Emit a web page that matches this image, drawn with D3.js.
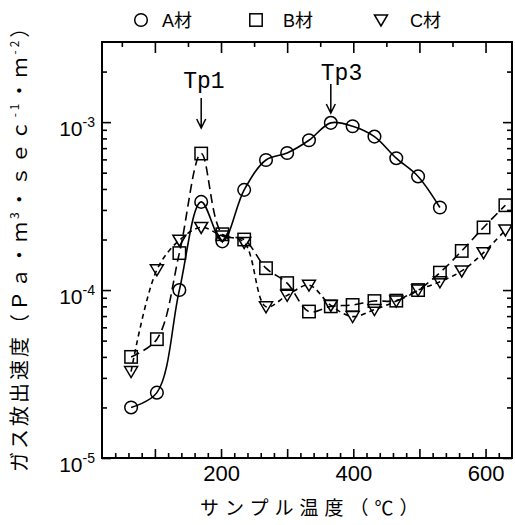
<!DOCTYPE html>
<html>
<head>
<meta charset="utf-8">
<script src="https://cdn.jsdelivr.net/npm/d3@7"></script>
<style>
  body { margin: 0; background: #fff; }
  svg { display: block; }
  .tick text { font-family: "Liberation Sans", Arial, sans-serif; fill: #000; }
  .jp { font-family: "Liberation Sans", "Noto Sans CJK JP", sans-serif; fill: #000; }
</style>
</head>
<body>
<svg id="chart"></svg>
<script>
// =========================
// DATA
// =========================

const temps = [64, 103, 137, 170, 202, 235, 268, 300, 333, 366, 399, 432, 465, 498, 531, 564, 597, 630];

// A材 (stops at 531 °C)
const seriesA = [2.0e-5, 2.45e-5, 1.0e-4, 3.35e-4, 1.95e-4, 3.95e-4, 5.95e-4, 6.55e-4,
  7.8e-4, 9.9e-4, 9.45e-4, 8.2e-4, 6.1e-4, 4.75e-4, 3.1e-4];

// B材
const seriesB = [4.0e-5, 5.1e-5, 1.66e-4, 6.5e-4, 2.15e-4, 2.0e-4, 1.35e-4, 1.1e-4,
  7.45e-5, 8.0e-5, 8.15e-5, 8.6e-5, 8.65e-5, 1.0e-4, 1.27e-4, 1.71e-4, 2.36e-4, 3.2e-4];

// C材
const seriesC = [3.27e-5, 1.32e-4, 1.98e-4, 2.36e-4, 2.1e-4, 1.92e-4, 7.95e-5, 9.3e-5,
  1.07e-4, 8.1e-5, 6.95e-5, 7.65e-5, 8.6e-5, 1.0e-4, 1.12e-4, 1.3e-4, 1.67e-4, 2.28e-4];

const legendNames = ['A材', 'B材', 'C材'];
const xLabels = [200, 400, 600];
const yLabels = [1e-5, 1e-4, 1e-3];
const peaks = [{ name: 'Tp1', t: 170 }, { name: 'Tp3', t: 366 }];

// =========================
// SETUP
// =========================

const width = 515;
const height = 525;

const svg = d3.select('#chart')
  .attr('width', width)
  .attr('height', height);

const margin = { top: 42, right: 3, bottom: 67, left: 102 };

const x = d3.scaleLinear()
  .domain([20, 640])
  .range([margin.left, width - margin.right]);

const y = d3.scaleLog()
  .domain([1e-5, 3e-3])
  .range([height - margin.bottom, margin.top]);

const x0 = x.range()[0], x1 = x.range()[1];
const y0 = y.range()[0], y1 = y.range()[1];

// =========================
// AXES
// =========================

function styleAxis(g) {
  g.select('.domain').remove();
  g.selectAll('.tick line').attr('stroke', '#000').attr('stroke-width', 1.6);
}

const xMajor = d3.range(100, 601, 100);
const xMinor20 = d3.range(40, 640, 20).filter(d => d % 100 !== 0);
const xMinor50 = d3.range(50, 640, 100);

// bottom
svg.append('g')
  .attr('transform', `translate(0, ${y0})`)
  .call(d3.axisBottom(x).tickValues(xMinor20).tickSize(-5).tickFormat(''))
  .call(styleAxis);

svg.append('g')
  .attr('transform', `translate(0, ${y0})`)
  .call(d3.axisBottom(x).tickValues(xMajor).tickSize(-9).tickPadding(7)
    .tickFormat(d => xLabels.includes(d) ? d : ''))
  .call(styleAxis)
  .selectAll('text')
  .style('font-size', '22px');

// top
svg.append('g')
  .attr('transform', `translate(0, ${y1})`)
  .call(d3.axisTop(x).tickValues(xMinor50).tickSize(-5).tickFormat(''))
  .call(styleAxis);

svg.append('g')
  .attr('transform', `translate(0, ${y1})`)
  .call(d3.axisTop(x).tickValues(xMajor).tickSize(-11).tickFormat(''))
  .call(styleAxis);

// log ticks left / right
const yMinor = [];
[1e-5, 1e-4, 1e-3].forEach(base => {
  for (let k = 2; k <= 9; k++) {
    const v = base * k;
    if (v < 3e-3) yMinor.push(v);
  }
});

[d3.axisLeft, d3.axisRight].forEach((axisFn, i) => {
  const pos = i === 0 ? x0 : x1;

  svg.append('g')
    .attr('transform', `translate(${pos}, 0)`)
    .call(axisFn(y).tickValues(yMinor).tickSize(-5).tickFormat(''))
    .call(styleAxis);

  const major = svg.append('g')
    .attr('transform', `translate(${pos}, 0)`)
    .call(axisFn(y).tickValues(yLabels).tickSize(-9).tickPadding(7).tickFormat(''))
    .call(styleAxis);

  if (i === 0) {
    major.selectAll('.tick text').each(function(d) {
      const t = d3.select(this)
        .attr('dy', '0.62em')
        .style('font-size', '21px');
      t.append('tspan').text('10');
      t.append('tspan')
        .attr('dy', '-0.64em')
        .style('font-size', '14px')
        .text('-' + Math.round(-Math.log10(d)));
    });
  }
});

// frame
svg.append('rect')
  .attr('x', x0)
  .attr('y', y1)
  .attr('width', x1 - x0)
  .attr('height', y0 - y1)
  .attr('fill', 'none')
  .attr('stroke', '#000')
  .attr('stroke-width', 2);

// =========================
// SERIES
// =========================

const series = [
  { name: legendNames[0], values: seriesA, dash: null, symbol: 'circle' },
  { name: legendNames[1], values: seriesB, dash: '9,5', symbol: 'square' },
  { name: legendNames[2], values: seriesC, dash: '5,4', symbol: 'triangle' }
];

const line = d3.line()
  .x(d => x(d.t))
  .y(d => y(d.v))
  .curve(d3.curveCatmullRom.alpha(0.5));

function marker(g, type) {
  if (type === 'circle') {
    g.append('circle').attr('r', 6.3);
  } else if (type === 'square') {
    g.append('rect').attr('x', -6.2).attr('y', -6.2).attr('width', 12.4).attr('height', 12.4);
  } else {
    g.append('path').attr('d', 'M-6.5,-5 L6.5,-5 L0,6 Z');
  }
  g.selectAll('*')
    .attr('fill', 'none')
    .attr('stroke', '#000')
    .attr('stroke-width', 1.5);
}

series.forEach(s => {
  const pts = s.values.map((v, i) => ({ t: temps[i], v }));

  svg.append('path')
    .datum(pts)
    .attr('d', line)
    .attr('fill', 'none')
    .attr('stroke', '#000')
    .attr('stroke-width', 1.6)
    .attr('stroke-dasharray', s.dash);

  svg.selectAll(null)
    .data(pts)
    .enter()
    .append('g')
    .attr('transform', d => `translate(${x(d.t)}, ${y(d.v)})`)
    .each(function() { marker(d3.select(this), s.symbol); });
});

// =========================
// LEGEND
// =========================

const legendX = [141, 256, 381];
const legendTextX = [162, 283, 410];

series.forEach((s, i) => {
  const g = svg.append('g').attr('transform', `translate(${legendX[i]}, 20)`);
  marker(g, s.symbol);

  svg.append('text')
    .attr('class', 'jp')
    .attr('x', legendTextX[i])
    .attr('y', 27)
    .style('font-size', '18px')
    .text(s.name);
});

// =========================
// PEAK ANNOTATIONS
// =========================

const peakOffset = [{ dx: -18, ty: 88, a0: 98, a1: 128 }, { dx: -10, ty: 80, a0: 84, a1: 113 }];

peaks.forEach((p, i) => {
  const px = x(p.t);
  const o = peakOffset[i];

  svg.append('text')
    .attr('x', px + o.dx)
    .attr('y', o.ty)
    .style('font-family', '"Liberation Mono", "Courier New", monospace')
    .style('font-size', '23px')
    .text(p.name);

  svg.append('path')
    .attr('d', `M${px},${o.a0} L${px},${o.a1} M${px - 4.5},${o.a1 - 9} L${px},${o.a1} L${px + 4.5},${o.a1 - 9}`)
    .attr('fill', 'none')
    .attr('stroke', '#000')
    .attr('stroke-width', 1.5);
});

// =========================
// AXIS TITLES
// =========================

svg.append('text')
  .attr('class', 'jp')
  .attr('x', 200)
  .attr('y', 515)
  .style('font-family', '"Noto Sans CJK JP", sans-serif')
  .style('font-size', '19px')
  .style('letter-spacing', '6px')
  .text('サンプル温度（℃）');

const yTitle = svg.append('text')
  .attr('class', 'jp')
  .attr('transform', 'translate(27, 472) rotate(-90)')
  .style('font-family', '"Noto Sans CJK JP", sans-serif')
  .style('font-size', '20px')
  .style('letter-spacing', '3px');

yTitle.append('tspan').text('ガス放出速度（Ｐａ・ｍ');
yTitle.append('tspan').attr('dy', -8).style('font-size', '12px').text('3');
yTitle.append('tspan').attr('dy', 8).text('・ｓｅｃ');
yTitle.append('tspan').attr('dy', -8).style('font-size', '12px').text('-1');
yTitle.append('tspan').attr('dy', 8).text('・ｍ');
yTitle.append('tspan').attr('dy', -8).style('font-size', '12px').text('-2');
yTitle.append('tspan').attr('dy', 8).text('）');
</script>
</body>
</html>
